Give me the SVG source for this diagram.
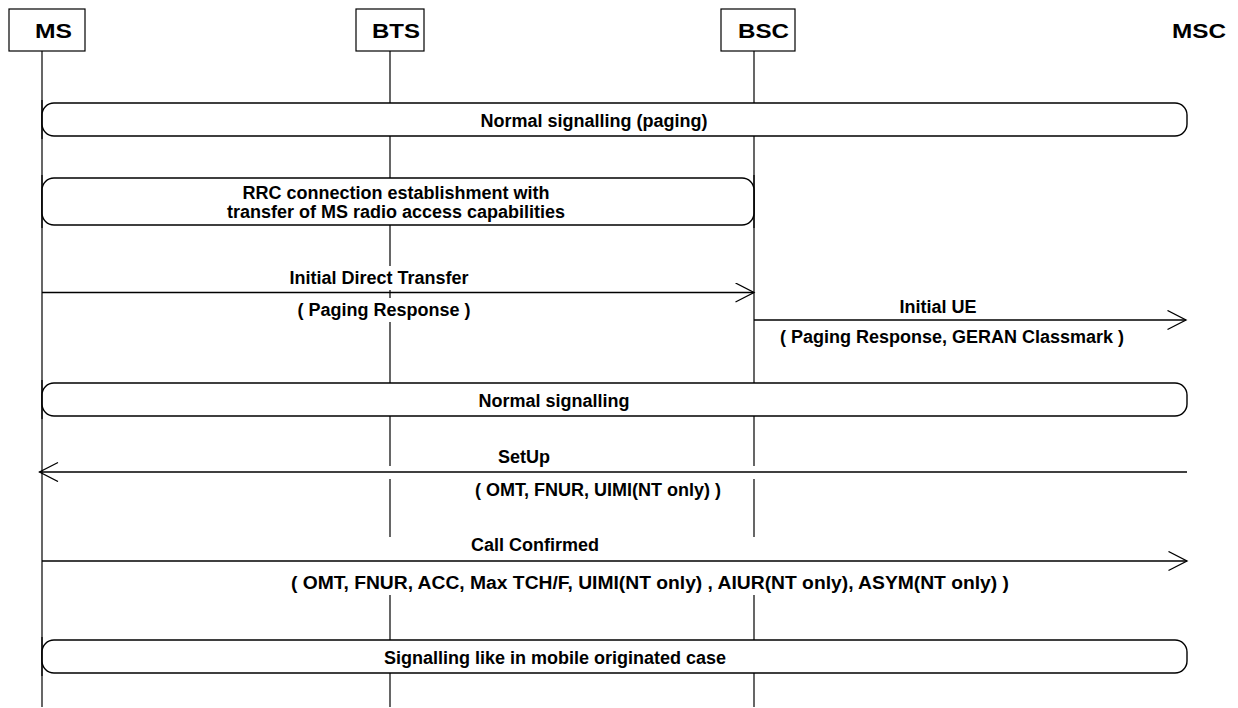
<svg xmlns="http://www.w3.org/2000/svg" width="1238" height="708" viewBox="0 0 1238 708">
  <style>
    .hdr { font-family: "Liberation Sans", Arial, sans-serif; font-weight: bold; font-size: 21px; fill: #000; }
    .lbl { font-family: "Liberation Sans", Arial, sans-serif; font-weight: bold; font-size: 18px; fill: #000; text-anchor: middle; }
    .hbox { fill: #fff; stroke: #000; stroke-width: 1.2; }
    .life { stroke: #000; stroke-width: 1.2; fill: none; }
    .proc { fill: #fff; stroke: #000; stroke-width: 1.4; }
    .msg { stroke: #000; stroke-width: 1.3; fill: none; marker-end: url(#open); }
    .bg { fill: #fff; stroke: none; }
  </style>
  <defs>
    <marker id="open" markerUnits="userSpaceOnUse" markerWidth="22" markerHeight="22" refX="19" refY="10" orient="auto">
      <path d="M0.5,0.5 L19,10 L0.5,19.5" fill="none" stroke="#000" stroke-width="1.3"/>
    </marker>
  </defs>
  <rect width="1238" height="708" fill="#fff"/>

  <!-- lifelines -->
  <g id="lifelines">
    <line class="life" x1="42" y1="51" x2="42" y2="707"/>
    <line class="life" x1="390" y1="51" x2="390" y2="707"/>
    <line class="life" x1="754" y1="51" x2="754" y2="707"/>
  </g>

  <!-- header nodes -->
  <g id="node-MS">
    <rect class="hbox" x="9" y="9" width="76" height="42"/>
    <text class="hdr" x="35" y="38" textLength="37" lengthAdjust="spacingAndGlyphs">MS</text>
  </g>
  <g id="node-BTS">
    <rect class="hbox" x="356" y="9" width="68" height="42"/>
    <text class="hdr" x="372" y="38" textLength="48" lengthAdjust="spacingAndGlyphs">BTS</text>
  </g>
  <g id="node-BSC">
    <rect class="hbox" x="721" y="9" width="74" height="42"/>
    <text class="hdr" x="738" y="38" textLength="51" lengthAdjust="spacingAndGlyphs">BSC</text>
  </g>
  <g id="node-MSC">
    <text class="hdr" x="1172" y="38" textLength="54" lengthAdjust="spacingAndGlyphs">MSC</text>
  </g>

  <!-- process boxes -->
  <g id="proc-paging">
    <rect class="proc" x="42" y="103" width="1145" height="33" rx="12" ry="12"/>
    <text class="lbl" x="594" y="127">Normal signalling (paging)</text>
  </g>
  <g id="proc-rrc">
    <rect class="proc" x="42" y="178" width="712" height="47" rx="12" ry="12"/>
    <text class="lbl" x="396" y="199">RRC connection establishment with</text>
    <text class="lbl" x="396" y="218">transfer of MS radio access capabilities</text>
  </g>
  <g id="proc-normal">
    <rect class="proc" x="42" y="383" width="1145" height="33" rx="12" ry="12"/>
    <text class="lbl" x="554" y="407">Normal signalling</text>
  </g>
  <g id="proc-mo">
    <rect class="proc" x="42" y="640" width="1145" height="33" rx="12" ry="12"/>
    <text class="lbl" x="555" y="664">Signalling like in mobile originated case</text>
  </g>

  <!-- lifelines redrawn over box borders at the edges -->
  <g id="edge-lines">
    <line class="life" x1="42" y1="100" x2="42" y2="139"/>
    <line class="life" x1="42" y1="175" x2="42" y2="228"/>
    <line class="life" x1="754" y1="175" x2="754" y2="228"/>
    <line class="life" x1="42" y1="380" x2="42" y2="419"/>
    <line class="life" x1="42" y1="637" x2="42" y2="676"/>
  </g>

  <!-- connectors -->
  <g id="connectors">
    <rect class="bg" x="286" y="266" width="190" height="24"/>
    <rect class="bg" x="296" y="298" width="176" height="24"/>
    <rect class="bg" x="382" y="466" width="380" height="13"/>
    <rect class="bg" x="282" y="537" width="740" height="58"/>

    <line class="msg" x1="42" y1="292.5" x2="754" y2="292.5"/>
    <text class="lbl" x="379" y="284">Initial Direct Transfer</text>
    <text class="lbl" x="384" y="316">( Paging Response )</text>

    <line class="msg" x1="754" y1="320" x2="1186" y2="320"/>
    <text class="lbl" x="938" y="313">Initial UE</text>
    <text class="lbl" x="952" y="343">( Paging Response, GERAN Classmark )</text>

    <line class="msg" x1="1187" y1="472" x2="39.5" y2="472"/>
    <text class="lbl" x="524" y="463">SetUp</text>
    <text class="lbl" x="598" y="496">( OMT, FNUR, UIMI(NT only) )</text>

    <line class="msg" x1="42" y1="561" x2="1187" y2="561"/>
    <text class="lbl" x="535" y="551">Call Confirmed</text>
    <text class="lbl" x="650" y="589" textLength="718" lengthAdjust="spacingAndGlyphs">( OMT, FNUR, ACC, Max TCH/F, UIMI(NT only) , AIUR(NT only), ASYM(NT only) )</text>
  </g>
</svg>
